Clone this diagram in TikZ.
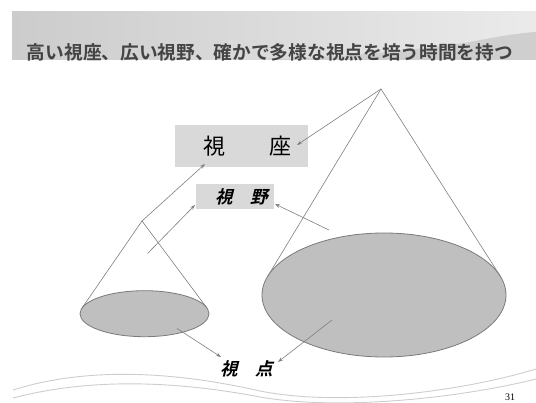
\documentclass[tikz,border=0pt]{standalone}
\usepackage{fontspec}
\usetikzlibrary{shapes.geometric,arrows.meta}
\newfontfamily\cjk{Noto Sans CJK JP}
\newfontfamily\cjkbi[FakeSlant=0.25]{Noto Sans CJK JP Bold}
\newfontfamily\cjkb{Noto Sans CJK JP Bold}
\newfontfamily\numfont{Liberation Serif}
\definecolor{linegray}{HTML}{7F7F7F}
\definecolor{ellfill}{HTML}{BFBFBF}
\definecolor{elldraw}{HTML}{7A7A7A}
\definecolor{boxfill}{HTML}{D9D9D9}
\definecolor{titlegray}{HTML}{444444}
\definecolor{swoosh}{HTML}{CDCDCD}
\tikzset{
  coneline/.style={draw=linegray,line width=0.6pt},
  disc/.style={ellipse,draw=elldraw,fill=ellfill,line width=0.8pt,inner sep=0pt},
  labelbox/.style={fill=boxfill,inner sep=0pt},
  pointer/.style={draw=linegray,line width=0.6pt,-{Stealth[length=5pt,width=3.5pt]}},
  curve/.style={draw=swoosh,line width=0.9pt}
}
\begin{document}
\begin{tikzpicture}[x=1pt,y=-1pt]
\useasboundingbox (0,0) rectangle (536,403);
% header band
\shade[left color=black!20,right color=black!8] (12,12) rectangle (536,60);
\fill[black!19] (250,60) .. controls (340,58) and (420,50) .. (470,42) .. controls (500,36) and (520,33) .. (536,32) -- (536,60) -- cycle;
\node[font=\cjkb\fontsize{18.7}{20}\selectfont,text=titlegray] (title) at (270,52.5) {高い視座、広い視野、確かで多様な視点を培う時間を持つ};
% bottom swooshes
\draw[curve] (13,390) .. controls (70,372) and (150,366) .. (260,391) .. controls (340,407) and (460,392) .. (536,369);
\draw[curve] (13,398) .. controls (70,383) and (150,376) .. (260,397) .. controls (340,411) and (460,398) .. (536,379);
\node[font=\numfont\fontsize{10}{12}\selectfont] (pnum) at (510,397) {31};
% cones
\coordinate (apexA) at (381,89);
\coordinate (apexB) at (142,221);
\coordinate (tA1) at (267.4,276.8);
\coordinate (tA2) at (500.1,275.9);
\coordinate (tB1) at (81.9,308.2);
\coordinate (tB2) at (206.8,307.8);
\draw[coneline] (tA1) -- (apexA) -- (tA2);
\draw[coneline] (tB1) -- (apexB) -- (tB2);
\node[disc,minimum width=244pt,minimum height=124pt] (ellA) at (384,295) {};
\node[disc,minimum width=129pt,minimum height=46pt] (ellB) at (144.5,313.7) {};
% labels
\node[labelbox,minimum width=133pt,minimum height=42pt] (zaBox) at (241.3,146) {};
\node[font=\cjk\fontsize{22}{24}\selectfont] (za) at (247.5,146) {視　　座};
\node[labelbox,minimum width=78pt,minimum height=25pt] (yaBox) at (235,196.7) {};
\node[font=\cjkbi\fontsize{17.5}{20}\selectfont] (ya) at (242,196.7) {視　野};
\node[font=\cjkbi\fontsize{17.5}{20}\selectfont] (ten) at (247,369) {視　点};
% arrows
\coordinate (zaEnd1) at (297,145);
\coordinate (zaEnd2) at (205,164);
\coordinate (yaEnd1) at (195,205);
\coordinate (yaEnd2) at (275,204);
\coordinate (yaStart1) at (147.5,253.5);
\coordinate (yaStart2) at (329,230);
\coordinate (tenStart1) at (177,328.5);
\coordinate (tenEnd1) at (221,357);
\coordinate (tenStart2) at (332,320);
\coordinate (tenEnd2) at (278,362);
\draw[pointer] (apexA) -- (zaEnd1);
\draw[pointer] (apexB) -- (zaEnd2);
\draw[pointer] (yaStart1) -- (yaEnd1);
\draw[pointer] (yaStart2) -- (yaEnd2);
\draw[pointer] (tenStart1) -- (tenEnd1);
\draw[pointer] (tenStart2) -- (tenEnd2);
\end{tikzpicture}
\end{document}
